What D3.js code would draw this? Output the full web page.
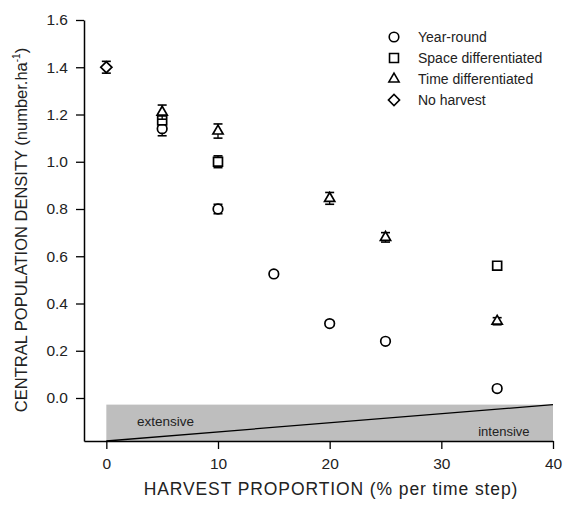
<!DOCTYPE html>
<html>
<head>
<meta charset="utf-8">
<script src="https://cdn.jsdelivr.net/npm/d3@7"></script>
<style>
  body { margin: 0; background: #fff; }
  svg { display: block; }
</style>
</head>
<body>
<svg id="chart" width="564" height="506"></svg>
<script>
// harvest proportion (% per time step) for each series
const yearRoundX = [5, 10, 15, 20, 25, 35];
const yearRoundY = [1.14, 0.80, 0.525, 0.315, 0.24, 0.04];
const yearRoundErr = [0.03, 0.02, 0.01, 0.01, 0.01, 0.01];

const spaceX = [5, 10, 35];
const spaceY = [1.175, 1.00, 0.56];
const spaceErr = [0.01, 0.025, 0.01];

const timeX = [5, 10, 20, 25, 35];
const timeY = [1.21, 1.13, 0.845, 0.68, 0.325];
const timeErr = [0.03, 0.03, 0.025, 0.02, 0.015];

const noHarvestX = [0];
const noHarvestY = [1.40];
const noHarvestErr = [0.025];

const xTicks = [0, 10, 20, 30, 40];
const yTicks = [0.0, 0.2, 0.4, 0.6, 0.8, 1.0, 1.2, 1.4, 1.6];

const legendLabels = ["Year-round", "Space differentiated", "Time differentiated", "No harvest"];

const font = "Liberation Sans, Arial, sans-serif";
const svg = d3.select("#chart");

const x = d3.scaleLinear().domain([-2, 40]).range([84, 553]);
const y = d3.scaleLinear().domain([-0.182, 1.6]).range([441, 20]);

// gray harvest band with extensive/intensive divide
const bandTop = -0.028, bandBottom = -0.182;
svg.append("rect")
    .attr("x", x(0))
    .attr("y", y(bandTop))
    .attr("width", x(40) - x(0))
    .attr("height", y(bandBottom) - y(bandTop))
    .attr("fill", "#bebebe");

svg.append("line")
    .attr("x1", x(0)).attr("y1", y(bandBottom))
    .attr("x2", x(40)).attr("y2", y(bandTop))
    .attr("stroke", "#000")
    .attr("stroke-width", 1.3);

svg.append("text")
    .attr("x", x(2.75)).attr("y", y(-0.12))
    .attr("font-family", font)
    .attr("font-size", "13.5px")
    .attr("fill", "#222")
    .text("extensive");

svg.append("text")
    .attr("x", x(37.9)).attr("y", y(-0.16))
    .attr("text-anchor", "end")
    .attr("font-family", font)
    .attr("font-size", "13px")
    .attr("fill", "#222")
    .text("intensive");

// axes
const xAxis = svg.append("g")
    .attr("transform", `translate(0,${y(-0.182)})`)
    .call(d3.axisBottom(x).tickValues(xTicks).tickSize(8).tickSizeOuter(0));

const yAxis = svg.append("g")
    .attr("transform", `translate(${x(-2)},0)`)
    .call(d3.axisLeft(y).tickValues(yTicks).tickFormat(d3.format(".1f")).tickSize(8).tickSizeOuter(0));

[xAxis, yAxis].forEach(g => {
    g.select(".domain").attr("stroke", "#000").attr("stroke-width", 1.5);
    g.selectAll(".tick line").attr("stroke", "#000").attr("stroke-width", 1.3);
    g.selectAll(".tick text")
        .attr("fill", "#222")
        .attr("font-family", font)
        .attr("font-size", "15.5px");
});
xAxis.selectAll(".tick text").attr("y", 14).attr("dy", "0.9em");
yAxis.selectAll(".tick text").attr("x", -16);

// axis titles
svg.append("text")
    .attr("x", 331).attr("y", 495)
    .attr("text-anchor", "middle")
    .attr("font-family", font)
    .attr("font-size", "17.5px")
    .attr("letter-spacing", "0.9px")
    .attr("fill", "#222")
    .text("HARVEST PROPORTION (% per time step)");

const yTitle = svg.append("text")
    .attr("transform", "translate(27,230) rotate(-90)")
    .attr("text-anchor", "middle")
    .attr("font-family", font)
    .attr("font-size", "16.5px")
    .attr("fill", "#222");
yTitle.append("tspan").text("CENTRAL POPULATION DENSITY (number.ha");
yTitle.append("tspan").attr("dy", -7).attr("font-size", "10px").text("-1");
yTitle.append("tspan").attr("dy", 7).text(")");

// symbols: diamond drawn as a rotated square
const symbolTypes = [d3.symbolCircle, d3.symbolSquare, d3.symbolTriangle, d3.symbolSquare];
const symbolSizes = [72, 80, 45, 62];
const symbolRotate = [0, 0, 0, 45];

const series = [
    { xs: yearRoundX, ys: yearRoundY, errs: yearRoundErr },
    { xs: spaceX, ys: spaceY, errs: spaceErr },
    { xs: timeX, ys: timeY, errs: timeErr },
    { xs: noHarvestX, ys: noHarvestY, errs: noHarvestErr }
];

series.forEach((s, i) => {
    const pts = s.xs.map((xv, j) => ({ x: xv, y: s.ys[j], e: s.errs[j] }));
    const g = svg.append("g");

    // error bars
    const eb = g.selectAll("g.err").data(pts).join("g").attr("class", "err");
    eb.append("line")
        .attr("x1", d => x(d.x)).attr("x2", d => x(d.x))
        .attr("y1", d => y(d.y + d.e)).attr("y2", d => y(d.y - d.e))
        .attr("stroke", "#000").attr("stroke-width", 1.3);
    eb.append("line")
        .attr("x1", d => x(d.x) - 4.5).attr("x2", d => x(d.x) + 4.5)
        .attr("y1", d => y(d.y + d.e)).attr("y2", d => y(d.y + d.e))
        .attr("stroke", "#000").attr("stroke-width", 1.6);
    eb.append("line")
        .attr("x1", d => x(d.x) - 4.5).attr("x2", d => x(d.x) + 4.5)
        .attr("y1", d => y(d.y - d.e)).attr("y2", d => y(d.y - d.e))
        .attr("stroke", "#000").attr("stroke-width", 1.6);

    g.selectAll("path.pt").data(pts).join("path")
        .attr("class", "pt")
        .attr("transform", d => `translate(${x(d.x)},${y(d.y)}) rotate(${symbolRotate[i]})`)
        .attr("d", d3.symbol().type(symbolTypes[i]).size(symbolSizes[i]))
        .attr("fill", "#fff")
        .attr("stroke", "#000")
        .attr("stroke-width", 1.7);
});

// legend
const legend = svg.append("g").attr("transform", "translate(394,37)");
legendLabels.forEach((label, i) => {
    const row = legend.append("g").attr("transform", `translate(0,${i * 21})`);
    row.append("path")
        .attr("transform", `rotate(${symbolRotate[i]})`)
        .attr("d", d3.symbol().type(symbolTypes[i]).size(symbolSizes[i]))
        .attr("fill", "#fff")
        .attr("stroke", "#000")
        .attr("stroke-width", 1.6);
    row.append("text")
        .attr("x", 24).attr("y", 5)
        .attr("font-family", font)
        .attr("font-size", "14px")
        .attr("fill", "#222")
        .text(label);
});
</script>
</body>
</html>
